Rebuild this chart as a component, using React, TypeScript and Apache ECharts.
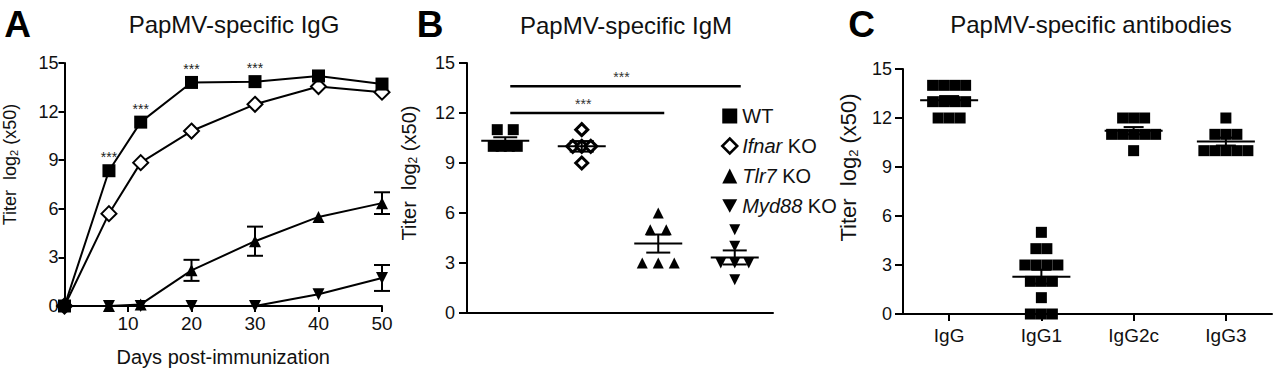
import React, { useEffect, useRef } from 'react';
import * as echarts from 'echarts';

const FONT = '"Liberation Sans", Arial, Helvetica, sans-serif';

// ---------- Panel A: PapMV-specific IgG over time ----------
const daysA = [0, 7, 12, 20, 30, 40, 50];
const wtIgG = [0, 8.35, 11.35, 13.8, 13.85, 14.2, 13.7];
const ifnarIgG = [0, 5.7, 8.85, 10.8, 12.45, 13.55, 13.2];
const tlr7IgG = [0, 0, 0.1, 2.2, 4.0, 5.5, 6.35];
const tlr7IgGSem = [0, 0, 0, 0.65, 0.9, 0, 0.67];
const myd88IgG = [0, 0, 0, 0, 0, 0.72, 1.73];
const myd88IgGSem = [0, 0, 0, 0, 0, 0, 0.8];
const starDaysA = [7, 12, 20, 30];

// ---------- Panel B: PapMV-specific IgM ----------
const groupsB = ['WT', 'Ifnar KO', 'Tlr7 KO', 'Myd88 KO'];
const wtIgM = [11, 11, 10, 10, 10, 10];
const ifnarIgM = [11, 10, 10, 10, 9];
const tlr7IgM = [6, 5, 5, 3, 3, 3];
const myd88IgM = [5, 4, 3, 3, 3, 2];
const sigFromB = [0, 0];
const sigToB = [2, 3];
const sigYB = [12, 13.6];

// ---------- Panel C: PapMV-specific antibodies ----------
const isotypes = ['IgG', 'IgG1', 'IgG2c', 'IgG3'];
const igGTotal = [14, 14, 14, 14, 13, 13, 13, 13, 12, 12, 12];
const igG1 = [5, 4, 4, 3, 3, 3, 3, 2, 2, 2, 1, 0, 0, 0];
const igG2c = [12, 12, 12, 11, 11, 11, 11, 11, 10];
const igG3 = [12, 11, 11, 11, 10, 10, 10, 10, 10];

const DOWN_TRI = 'path://M0,0L10,0L5,9Z';

function swarm(values: number[], cat: number, spacing: number, maxSpan: number) {
  const counts = new Map<number, number>();
  values.forEach((v) => counts.set(v, (counts.get(v) || 0) + 1));
  const seen = new Map<number, number>();
  return values.map((v) => {
    const n = counts.get(v) as number;
    const i = seen.get(v) || 0;
    seen.set(v, i + 1);
    const step = n > 1 ? Math.min(spacing, maxSpan / (n - 1)) : 0;
    return { value: [cat, v], symbolOffset: [(i - (n - 1) / 2) * step, 0] };
  });
}

function meanSem(values: number[]) {
  const n = values.length;
  const m = values.reduce((a, b) => a + b, 0) / n;
  const sd = Math.sqrt(values.reduce((a, b) => a + (b - m) * (b - m), 0) / (n - 1));
  return [m, sd / Math.sqrt(n)];
}

function statsSeries(groups: number[][], xi: number, yi: number, meanHalf: number, capHalf: number) {
  return {
    type: 'custom',
    xAxisIndex: xi,
    yAxisIndex: yi,
    z: 5,
    clip: false,
    data: groups.map((g, i) => {
      const [m, s] = meanSem(g);
      return [i, m, s];
    }),
    renderItem: (params: any, api: any) => {
      const cat = api.value(0);
      const m = api.value(1);
      const s = api.value(2);
      const c = api.coord([cat, m]);
      const hi = api.coord([cat, m + s]);
      const lo = api.coord([cat, m - s]);
      const st = { stroke: '#000', lineWidth: 2 };
      return {
        type: 'group',
        children: [
          { type: 'line', shape: { x1: c[0] - meanHalf, y1: c[1], x2: c[0] + meanHalf, y2: c[1] }, style: st },
          { type: 'line', shape: { x1: c[0], y1: hi[1], x2: c[0], y2: lo[1] }, style: st },
          { type: 'line', shape: { x1: c[0] - capHalf, y1: hi[1], x2: c[0] + capHalf, y2: hi[1] }, style: st },
          { type: 'line', shape: { x1: c[0] - capHalf, y1: lo[1], x2: c[0] + capHalf, y2: lo[1] }, style: st },
        ],
      };
    },
  };
}

function errSeries(means: number[], sems: number[]) {
  return {
    type: 'custom',
    xAxisIndex: 0,
    yAxisIndex: 0,
    z: 4,
    clip: false,
    data: daysA.map((d, i) => [d, means[i], sems[i]]).filter((r) => r[2] > 0),
    renderItem: (params: any, api: any) => {
      const d = api.value(0);
      const m = api.value(1);
      const s = api.value(2);
      const hi = api.coord([d, m + s]);
      const lo = api.coord([d, m - s]);
      const st = { stroke: '#000', lineWidth: 2 };
      const cap = 8;
      return {
        type: 'group',
        children: [
          { type: 'line', shape: { x1: hi[0], y1: hi[1], x2: lo[0], y2: lo[1] }, style: st },
          { type: 'line', shape: { x1: hi[0] - cap, y1: hi[1], x2: hi[0] + cap, y2: hi[1] }, style: st },
          { type: 'line', shape: { x1: lo[0] - cap, y1: lo[1], x2: lo[0] + cap, y2: lo[1] }, style: st },
        ],
      };
    },
  };
}

const axisLineStyle = { lineStyle: { color: '#000', width: 2 } };
const tickStyle = { lineStyle: { color: '#000', width: 2 } };

function yAxis(grid: number, margin: number, tickLen: number, nameSize: number, nameGap: number, shift: number) {
  return {
    type: 'value',
    gridIndex: grid,
    min: 0,
    max: 15,
    interval: 3,
    splitLine: { show: false },
    axisLine: { show: true, ...axisLineStyle },
    axisTick: { show: true, length: tickLen, ...tickStyle },
    axisLabel: { margin, fontSize: 18, color: '#111', fontFamily: FONT },
    name: 'Titer  log{s|2} (x50)',
    nameLocation: 'middle',
    nameGap,
    nameTextStyle: {
      fontSize: nameSize,
      color: '#111',
      fontFamily: FONT,
      padding: [0, 0, 0, shift * 2],
      rich: { s: { fontSize: Math.round(nameSize * 0.6), fontFamily: FONT, color: '#111', verticalAlign: 'bottom', padding: [Math.round(nameSize * 0.45), 0, 0, 0] } },
    },
  };
}

export default function App() {
  const ref = useRef<HTMLDivElement>(null);
  useEffect(() => {
    document.body.style.margin = '0';
    const chart = echarts.init(ref.current as HTMLDivElement, undefined, { renderer: 'svg' });

    const lineA = (name: string, vals: number[], symbol: string, size: number, style: any, stars: boolean) => ({
      type: 'line',
      name,
      xAxisIndex: 0,
      yAxisIndex: 0,
      symbol,
      symbolSize: size,
      showAllSymbol: true,
      clip: false,
      lineStyle: { color: '#000', width: 2 },
      itemStyle: style,
      z: 3,
      data: daysA.map((d, i) => ({
        value: [d, vals[i]],
        label:
          stars && starDaysA.includes(d)
            ? { show: true, formatter: '***', position: 'top', distance: 0, fontSize: 14, color: '#222', fontFamily: FONT }
            : { show: false },
      })),
    });

    const scatterB = (name: string, vals: number[], cat: number, symbol: string, size: number, style: any, maxSpan: number) => ({
      type: 'scatter',
      name,
      xAxisIndex: 1,
      yAxisIndex: 1,
      symbol,
      symbolSize: size,
      itemStyle: { opacity: 1, ...style },
      clip: false,
      z: 3,
      data: swarm(vals, cat, 16, maxSpan),
    });

    const black = { color: '#000', opacity: 1 };
    const openDiamond = { color: '#fff', borderColor: '#000', borderWidth: 3, opacity: 1 };

    const option: any = {
      animation: false,
      textStyle: { fontFamily: FONT },
      graphic: [
        { type: 'text', x: 17.5, y: 24, style: { text: 'A', fontSize: 37, fontWeight: 'bold', fontFamily: FONT, fill: '#000', align: 'center', verticalAlign: 'middle' } },
        { type: 'text', x: 430, y: 24, style: { text: 'B', fontSize: 37, fontWeight: 'bold', fontFamily: FONT, fill: '#000', align: 'center', verticalAlign: 'middle' } },
        { type: 'text', x: 861.5, y: 24, style: { text: 'C', fontSize: 37, fontWeight: 'bold', fontFamily: FONT, fill: '#000', align: 'center', verticalAlign: 'middle' } },
        { type: 'text', x: 234, y: 24, style: { text: 'PapMV-specific IgG', fontSize: 24, fontFamily: FONT, fill: '#111', align: 'center', verticalAlign: 'middle' } },
        { type: 'text', x: 626, y: 25, style: { text: 'PapMV-specific IgM', fontSize: 24, fontFamily: FONT, fill: '#111', align: 'center', verticalAlign: 'middle' } },
        { type: 'text', x: 1091, y: 24, style: { text: 'PapMV-specific antibodies', fontSize: 24, fontFamily: FONT, fill: '#111', align: 'center', verticalAlign: 'middle' } },
      ],
      grid: [
        { left: 64, right: 896, top: 63, bottom: 60 },
        { left: 467, right: 505, top: 63, bottom: 59 },
        { left: 903, right: 6, top: 69, bottom: 58 },
      ],
      xAxis: [
        {
          type: 'value',
          gridIndex: 0,
          min: 0,
          max: 50,
          interval: 10,
          splitLine: { show: false },
          axisLine: { show: true, ...axisLineStyle },
          axisTick: { show: true, length: 6, ...tickStyle },
          axisLabel: { margin: 8, fontSize: 19, color: '#111', fontFamily: FONT, formatter: (v: number) => (v === 0 ? '' : String(v)) },
          name: 'Days post-immunization',
          nameLocation: 'middle',
          nameGap: 41,
          nameTextStyle: { fontSize: 20, color: '#111', fontFamily: FONT },
        },
        {
          type: 'category',
          gridIndex: 1,
          data: groupsB,
          axisLine: { show: true, ...axisLineStyle },
          axisTick: { show: false },
          axisLabel: { show: false },
        },
        {
          type: 'category',
          gridIndex: 2,
          data: isotypes,
          axisLine: { show: true, ...axisLineStyle },
          axisTick: { show: true, alignWithLabel: true, length: 7, ...tickStyle },
          axisLabel: { margin: 12, fontSize: 19, color: '#111', fontFamily: FONT },
        },
      ],
      yAxis: [yAxis(0, 6, 6, 18, 45, 20), yAxis(1, 12, 8, 20, 48, 15), yAxis(2, 11, 8, 22, 43, 24)],
      legend: {
        orient: 'vertical',
        left: 716,
        top: 101,
        itemWidth: 15,
        itemHeight: 15,
        itemGap: 10,
        selectedMode: false,
        textStyle: {
          fontSize: 20,
          color: '#111',
          fontFamily: FONT,
          lineHeight: 20,
          rich: { i: { fontStyle: 'italic', fontSize: 20, color: '#111', fontFamily: FONT, lineHeight: 20 } },
        },
        formatter: (name: string) => {
          if (name === 'WT') return 'WT';
          const parts = name.split(' ');
          return '{i|' + parts[0] + '} ' + parts.slice(1).join(' ');
        },
        data: [
          { name: 'WT', icon: 'rect', itemStyle: black },
          { name: 'Ifnar KO', icon: 'diamond', itemStyle: { color: '#fff', borderColor: '#000', borderWidth: 2.5 } },
          { name: 'Tlr7 KO', icon: 'triangle', itemStyle: black },
          { name: 'Myd88 KO', icon: DOWN_TRI, itemStyle: black },
        ],
      },
      series: [
        lineA('A Ifnar KO', ifnarIgG, 'diamond', 15, { color: '#fff', borderColor: '#000', borderWidth: 2 }, false),
        lineA('A WT', wtIgG, 'rect', 13, black, true),
        lineA('A Tlr7 KO', tlr7IgG, 'triangle', 12, black, false),
        lineA('A Myd88 KO', myd88IgG, DOWN_TRI, 12, black, false),
        errSeries(tlr7IgG, tlr7IgGSem),
        errSeries(myd88IgG, myd88IgGSem),

        scatterB('WT', wtIgM, 0, 'rect', 11, black, 24),
        scatterB('Ifnar KO', ifnarIgM, 1, 'diamond', 12, openDiamond, 18),
        scatterB('Tlr7 KO', tlr7IgM, 2, 'triangle', 11, black, 32),
        scatterB('Myd88 KO', myd88IgM, 3, DOWN_TRI, 11, black, 28),
        statsSeries([wtIgM, ifnarIgM, tlr7IgM, myd88IgM], 1, 1, 24, 12),
        {
          type: 'custom',
          xAxisIndex: 1,
          yAxisIndex: 1,
          z: 6,
          clip: false,
          data: sigYB.map((y, i) => [sigFromB[i], sigToB[i], y]),
          renderItem: (params: any, api: any) => {
            const a = api.coord([api.value(0), api.value(2)]);
            const b = api.coord([api.value(1), api.value(2)]);
            const x1 = a[0] + 5;
            const x2 = b[0] + 6;
            return {
              type: 'group',
              children: [
                { type: 'line', shape: { x1, y1: a[1], x2, y2: a[1] }, style: { stroke: '#000', lineWidth: 2.5 } },
                {
                  type: 'text',
                  x: (x1 + x2) / 2 - 4,
                  y: a[1] - 9,
                  style: { text: '***', fontSize: 14, fill: '#333', fontFamily: FONT, align: 'center', verticalAlign: 'middle' },
                },
              ],
            };
          },
        },

        {
          type: 'scatter',
          name: 'C',
          xAxisIndex: 2,
          yAxisIndex: 2,
          symbol: 'rect',
          symbolSize: 11,
          itemStyle: black,
          clip: false,
          z: 3,
          data: [
            ...swarm(igGTotal, 0, 11, 33),
            ...swarm(igG1, 1, 11, 33),
            ...swarm(igG2c, 2, 11, 44),
            ...swarm(igG3, 3, 11, 44),
          ],
        },
        statsSeries([igGTotal, igG1, igG2c, igG3], 2, 2, 29, 10),
      ],
    };
    chart.setOption(option);
    return () => chart.dispose();
  }, []);
  return <div ref={ref} style={{ width: 1278, height: 372 }} />;
}
